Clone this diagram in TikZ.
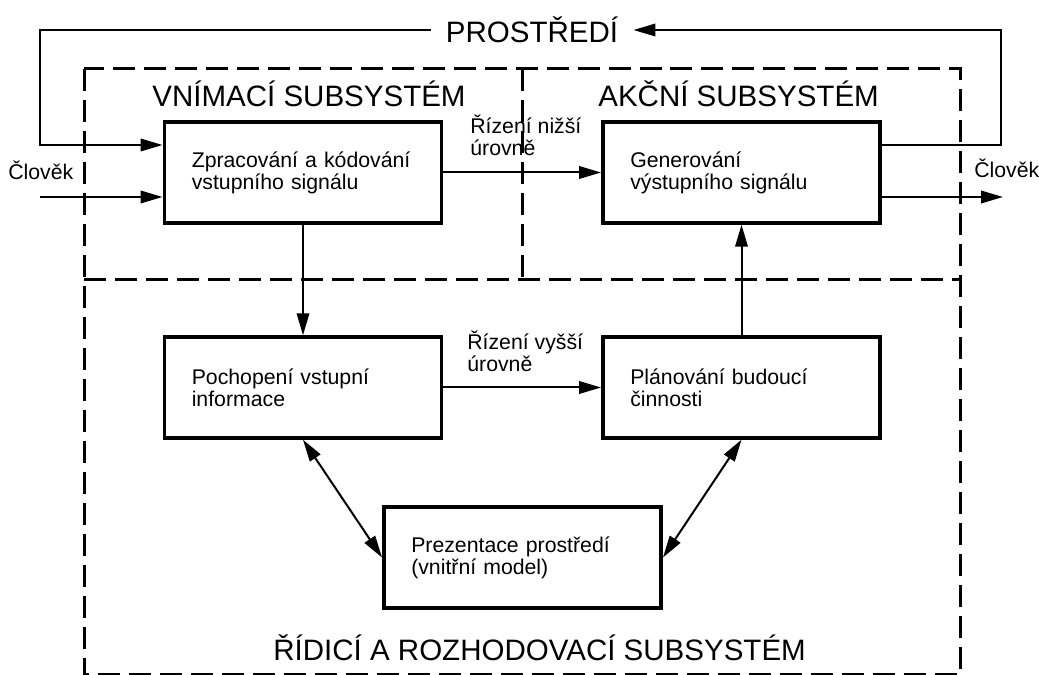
\documentclass[tikz,border=0pt]{standalone}
\usepackage{fontspec}
\setmainfont{Liberation Sans}
\usetikzlibrary{arrows.meta}
\newcommand{\dgboxfont}{\fontsize{12.1pt}{12.6pt}\selectfont}
\newcommand{\dgtitlefont}{\fontsize{16.8pt}{18pt}\selectfont}
\begin{document}
\begin{tikzpicture}[x=0.02cm,y=-0.02cm,
  box/.style={draw, line width=0.07cm, minimum height=2.02cm, text width=4.45cm,
    inner xsep=0.55cm, inner ysep=0pt, align=left, font=\dgboxfont},
  conn/.style={line width=0.04cm, -{Triangle[length=0.44cm,width=0.25cm]}},
  dconn/.style={line width=0.04cm, {Triangle[length=0.44cm,width=0.25cm]}-{Triangle[length=0.44cm,width=0.25cm]}},
  zone/.style={line width=0.06cm, dash pattern=on 0.44cm off 0.18cm},
  title/.style={font=\dgtitlefont, inner sep=0pt, anchor=west},
  lbl/.style={font=\dgboxfont, inner sep=0pt, align=left}]
\useasboundingbox (0,0) rectangle (1039,675);

% zones
\draw[zone] (84,69) rectangle (960,675);
\draw[zone] (84,280) -- (960,280);
\draw[zone] (522,69) -- (522,280);

% titles
\node[title] (tv) at (152,94) {VNÍMACÍ SUBSYSTÉM};
\node[title] (ta) at (598,94) {AKČNÍ SUBSYSTÉM};
\node[title] (tr) at (273,648) {ŘÍDICÍ A ROZHODOVACÍ SUBSYSTÉM};
\node[font=\dgtitlefont, inner xsep=0.3cm, inner ysep=0pt] (env) at (532,30) {PROSTŘEDÍ};

% boxes
\node[box] (b1) at (303,172.5) {Zpracování a kódování\\vstupního signálu};
\node[box] (b2) at (741.5,172.5) {Generování\\výstupního signálu};
\node[box] (b3) at (303,387.5) {Pochopení vstupní\\informace};
\node[box] (b4) at (741.5,387.5) {Plánování budoucí\\činnosti};
\node[box] (b5) at (522.5,557.5) {Prezentace prostředí\\(vnitřní model)};

% outside labels
\node[lbl, anchor=west] (cl) at (8,170) {Člověk};
\node[lbl, anchor=west] (cr) at (974,168) {Člověk};
\node[lbl, anchor=base west] (l1) at (470,156) {Řízení nižší\\úrovně};
\node[lbl, anchor=base west] (l2) at (467,372) {Řízení vyšší\\úrovně};

% coordinates
\coordinate (lt) at (40,30);
\coordinate (lb) at (40,145);
\coordinate (rt) at (1001,30);
\coordinate (rb) at (1001,145);
\coordinate (in2) at (40,197);
\coordinate (out2) at (1003,197);

% connectors
\draw[conn] (env.west) -- (lt) -- (lb) -- (lb -| b1.west);
\draw[conn] (rb -| b2.east) -- (rb) -- (rt) -- (env.east);
\draw[conn] (in2) -- (in2 -| b1.west);
\draw[conn] (out2 -| b2.east) -- (out2);
\draw[conn] (b1.east) -- (b2.west);
\draw[conn] (b1.south) -- (b3.north);
\draw[conn] (b4.north) -- (b2.south);
\draw[conn] (b3.east) -- (b4.west);
\draw[dconn] (b3.south) -- (b5.west);
\draw[dconn] (b4.south) -- (b5.east);
\end{tikzpicture}
\end{document}
